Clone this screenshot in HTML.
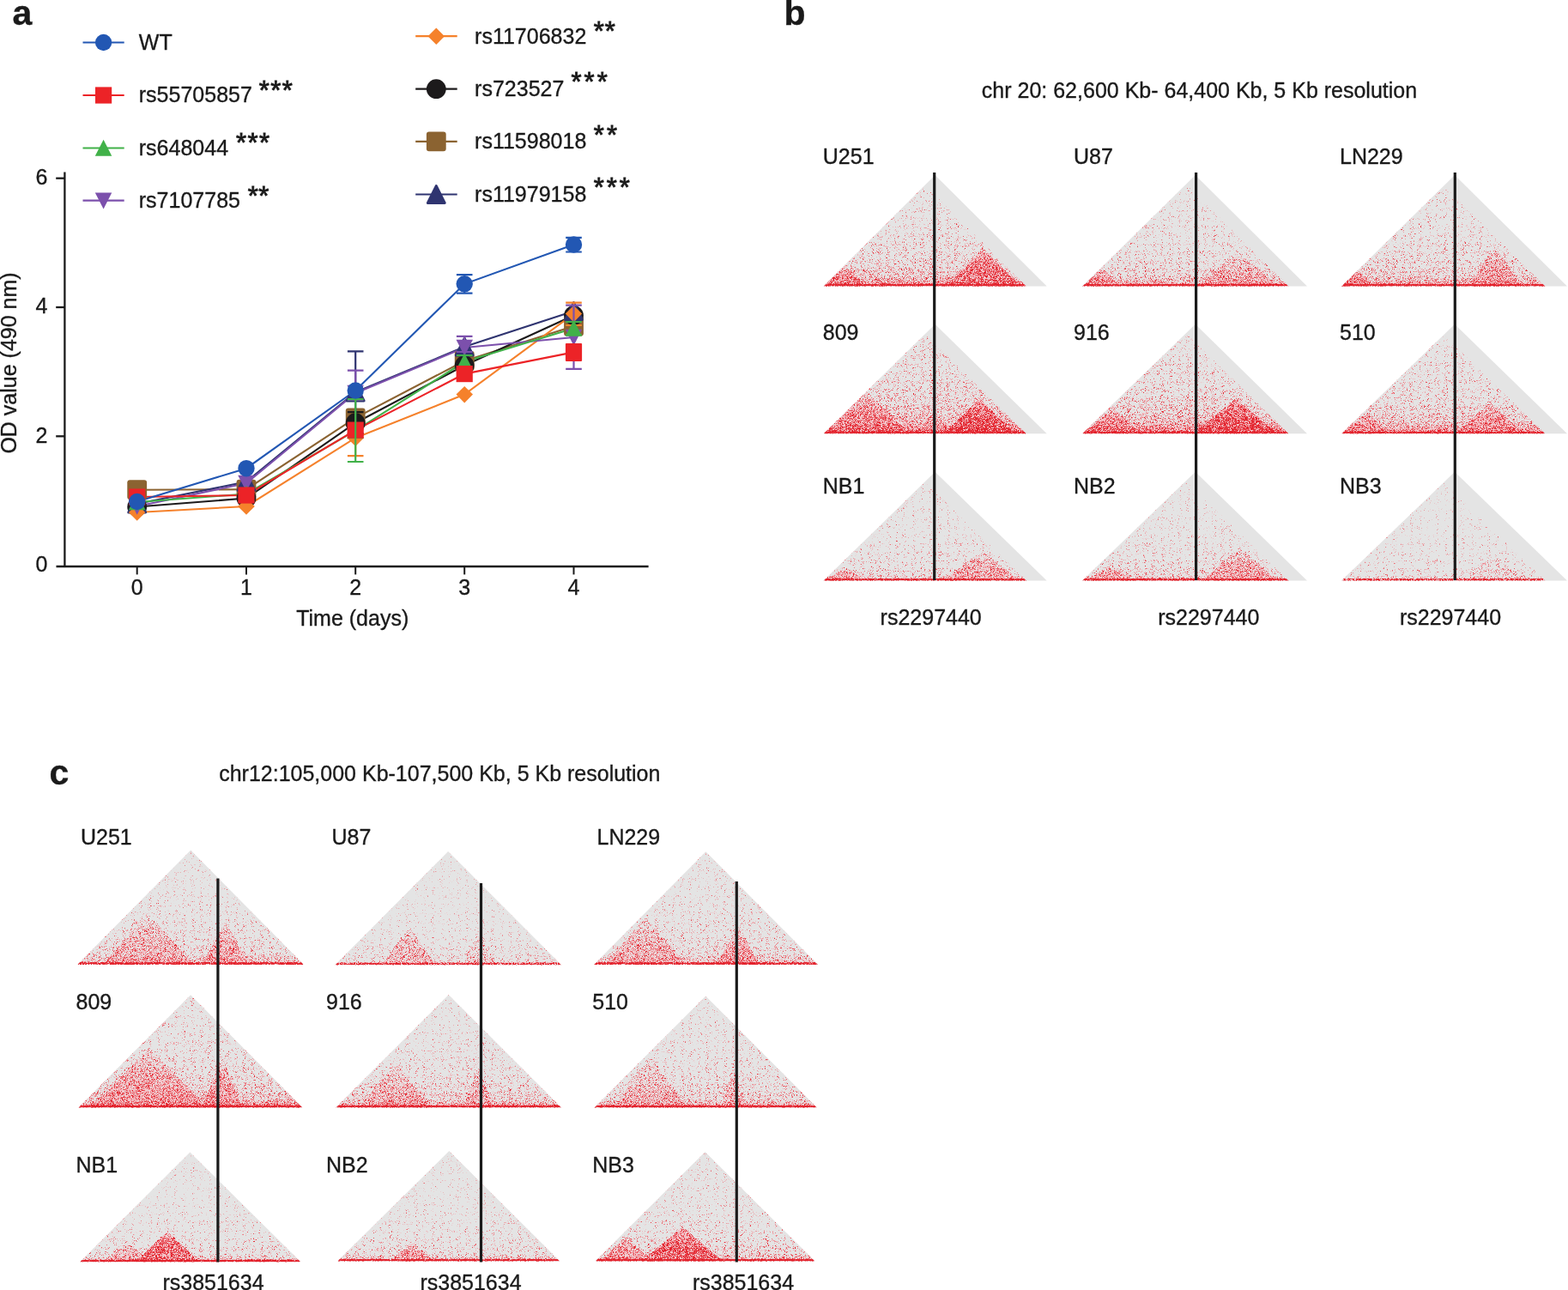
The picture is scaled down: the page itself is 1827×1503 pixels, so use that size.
<!DOCTYPE html>
<html><head><meta charset="utf-8"><title>Figure</title>
<style>
html,body{margin:0;padding:0;background:#fff;}
body{width:1827px;height:1503px;overflow:hidden;}
svg{display:block;}
text{font-family:'Liberation Sans', Arial, Helvetica, sans-serif;fill:#1a1a1a;stroke:#1a1a1a;stroke-width:0.35px;}
</style></head><body>
<svg width="1827" height="1503" viewBox="0 0 1827 1503">
<defs>
<filter id="hf" x="0" y="0" width="1" height="1" color-interpolation-filters="sRGB">
<feTurbulence type="fractalNoise" baseFrequency="1.9" numOctaves="1" seed="7" result="t"/>
<feColorMatrix in="t" type="matrix" values="0 0 0 0 0  0 0 0 0 0  0 0 0 0 0  1 0 0 0 0" result="n"/>
<feColorMatrix in="t" type="matrix" values="0 0 0 0 0  0 0 0 0 0  0 0 0 0 0  0 2.5 0 0 -0.85" result="i"/>
<feComponentTransfer in="n" result="u"><feFuncA type="table" tableValues="0.000 0.000 0.000 0.000 0.000 0.000 0.000 0.001 0.004 0.015 0.039 0.077 0.128 0.192 0.274 0.384 0.493 0.620 0.731 0.809 0.871 0.921 0.958 0.983 0.995 0.999 1.000 1.000 1.000 1.000 1.000 1.000 1.000"/></feComponentTransfer>
<feComposite in="SourceAlpha" in2="u" operator="arithmetic" k1="0" k2="0.5" k3="0.5" k4="0" result="s"/>
<feComponentTransfer in="s" result="th"><feFuncA type="linear" slope="14" intercept="-6.5"/></feComponentTransfer>
<feComponentTransfer in="SourceAlpha" result="dnz"><feFuncA type="table" tableValues="0.000 0.057 0.130 0.217 0.320 0.438 0.570 0.717 0.880 1.000 1.000 1.000 1.000 1.000 1.000 1.000 1.000 1.000 1.000 1.000 1.000"/></feComponentTransfer>
<feComposite in="dnz" in2="u" operator="arithmetic" k1="0" k2="0.5" k3="0.5" k4="0" result="s2"/>
<feComponentTransfer in="s2" result="th2"><feFuncA type="linear" slope="14" intercept="-6.5"/></feComponentTransfer>
<feComposite in="i" in2="SourceAlpha" operator="arithmetic" k1="0" k2="1" k3="0.8" k4="0" result="i2"/>
<feComposite in="th" in2="i2" operator="arithmetic" k1="1" k2="0" k3="0" k4="0" result="m"/>
<feFlood flood-color="#f3c3c8" result="pk"/>
<feComposite in="pk" in2="th2" operator="in" result="pkm"/>
<feFlood flood-color="#e3212b" result="red"/>
<feComposite in="red" in2="m" operator="in" result="redm"/>
<feMerge><feMergeNode in="pkm"/><feMergeNode in="redm"/></feMerge>
</filter>
<linearGradient id="g0" x1="0" y1="1" x2="0" y2="0"><stop offset="0.0000" stop-color="#e3212b" stop-opacity="1.000"/><stop offset="0.0077" stop-color="#e3212b" stop-opacity="0.975"/><stop offset="0.0154" stop-color="#e3212b" stop-opacity="0.950"/><stop offset="0.0232" stop-color="#e3212b" stop-opacity="0.495"/><stop offset="0.0386" stop-color="#e3212b" stop-opacity="0.378"/><stop offset="0.0618" stop-color="#e3212b" stop-opacity="0.306"/><stop offset="0.0927" stop-color="#e3212b" stop-opacity="0.252"/><stop offset="0.1390" stop-color="#e3212b" stop-opacity="0.207"/><stop offset="0.1931" stop-color="#e3212b" stop-opacity="0.171"/><stop offset="0.2703" stop-color="#e3212b" stop-opacity="0.140"/><stop offset="0.3861" stop-color="#e3212b" stop-opacity="0.108"/><stop offset="0.5405" stop-color="#e3212b" stop-opacity="0.086"/><stop offset="0.7336" stop-color="#e3212b" stop-opacity="0.069"/><stop offset="1.0000" stop-color="#e3212b" stop-opacity="0.058"/></linearGradient>
<clipPath id="c0"><polygon points="959.5,333.8 1077.7,215.8 1196.0,333.8"/></clipPath>
<linearGradient id="b0_48" x1="0" y1="1" x2="0" y2="0"><stop offset="0" stop-color="#e3212b" stop-opacity="0.34"/><stop offset="0.35" stop-color="#e3212b" stop-opacity="0.48"/><stop offset="0.7" stop-color="#e3212b" stop-opacity="0.36"/><stop offset="1" stop-color="#e3212b" stop-opacity="0.17"/></linearGradient>
<linearGradient id="b0_28" x1="0" y1="1" x2="0" y2="0"><stop offset="0" stop-color="#e3212b" stop-opacity="0.20"/><stop offset="0.35" stop-color="#e3212b" stop-opacity="0.28"/><stop offset="0.7" stop-color="#e3212b" stop-opacity="0.21"/><stop offset="1" stop-color="#e3212b" stop-opacity="0.10"/></linearGradient>
<linearGradient id="g1" x1="0" y1="1" x2="0" y2="0"><stop offset="0.0000" stop-color="#e3212b" stop-opacity="1.000"/><stop offset="0.0077" stop-color="#e3212b" stop-opacity="0.975"/><stop offset="0.0154" stop-color="#e3212b" stop-opacity="0.950"/><stop offset="0.0232" stop-color="#e3212b" stop-opacity="0.385"/><stop offset="0.0386" stop-color="#e3212b" stop-opacity="0.294"/><stop offset="0.0618" stop-color="#e3212b" stop-opacity="0.238"/><stop offset="0.0927" stop-color="#e3212b" stop-opacity="0.196"/><stop offset="0.1390" stop-color="#e3212b" stop-opacity="0.161"/><stop offset="0.1931" stop-color="#e3212b" stop-opacity="0.133"/><stop offset="0.2703" stop-color="#e3212b" stop-opacity="0.108"/><stop offset="0.3861" stop-color="#e3212b" stop-opacity="0.084"/><stop offset="0.5405" stop-color="#e3212b" stop-opacity="0.066"/><stop offset="0.7336" stop-color="#e3212b" stop-opacity="0.054"/><stop offset="1.0000" stop-color="#e3212b" stop-opacity="0.045"/></linearGradient>
<clipPath id="c1"><polygon points="1261.0,333.8 1382.0,214.6 1501.5,333.8"/></clipPath>
<linearGradient id="b0_20" x1="0" y1="1" x2="0" y2="0"><stop offset="0" stop-color="#e3212b" stop-opacity="0.14"/><stop offset="0.35" stop-color="#e3212b" stop-opacity="0.20"/><stop offset="0.7" stop-color="#e3212b" stop-opacity="0.15"/><stop offset="1" stop-color="#e3212b" stop-opacity="0.07"/></linearGradient>
<linearGradient id="g2" x1="0" y1="1" x2="0" y2="0"><stop offset="0.0000" stop-color="#e3212b" stop-opacity="1.000"/><stop offset="0.0077" stop-color="#e3212b" stop-opacity="0.975"/><stop offset="0.0154" stop-color="#e3212b" stop-opacity="0.950"/><stop offset="0.0232" stop-color="#e3212b" stop-opacity="0.440"/><stop offset="0.0386" stop-color="#e3212b" stop-opacity="0.336"/><stop offset="0.0618" stop-color="#e3212b" stop-opacity="0.272"/><stop offset="0.0927" stop-color="#e3212b" stop-opacity="0.224"/><stop offset="0.1390" stop-color="#e3212b" stop-opacity="0.184"/><stop offset="0.1931" stop-color="#e3212b" stop-opacity="0.152"/><stop offset="0.2703" stop-color="#e3212b" stop-opacity="0.124"/><stop offset="0.3861" stop-color="#e3212b" stop-opacity="0.096"/><stop offset="0.5405" stop-color="#e3212b" stop-opacity="0.076"/><stop offset="0.7336" stop-color="#e3212b" stop-opacity="0.062"/><stop offset="1.0000" stop-color="#e3212b" stop-opacity="0.051"/></linearGradient>
<clipPath id="c2"><polygon points="1563.0,333.8 1682.2,216.6 1800.5,333.8"/></clipPath>
<linearGradient id="b0_24" x1="0" y1="1" x2="0" y2="0"><stop offset="0" stop-color="#e3212b" stop-opacity="0.17"/><stop offset="0.35" stop-color="#e3212b" stop-opacity="0.24"/><stop offset="0.7" stop-color="#e3212b" stop-opacity="0.18"/><stop offset="1" stop-color="#e3212b" stop-opacity="0.08"/></linearGradient>
<linearGradient id="g3" x1="0" y1="1" x2="0" y2="0"><stop offset="0.0000" stop-color="#e3212b" stop-opacity="1.000"/><stop offset="0.0078" stop-color="#e3212b" stop-opacity="0.975"/><stop offset="0.0157" stop-color="#e3212b" stop-opacity="0.950"/><stop offset="0.0235" stop-color="#e3212b" stop-opacity="0.688"/><stop offset="0.0392" stop-color="#e3212b" stop-opacity="0.525"/><stop offset="0.0627" stop-color="#e3212b" stop-opacity="0.425"/><stop offset="0.0940" stop-color="#e3212b" stop-opacity="0.350"/><stop offset="0.1411" stop-color="#e3212b" stop-opacity="0.288"/><stop offset="0.1959" stop-color="#e3212b" stop-opacity="0.237"/><stop offset="0.2743" stop-color="#e3212b" stop-opacity="0.194"/><stop offset="0.3918" stop-color="#e3212b" stop-opacity="0.150"/><stop offset="0.5486" stop-color="#e3212b" stop-opacity="0.119"/><stop offset="0.7445" stop-color="#e3212b" stop-opacity="0.096"/><stop offset="1.0000" stop-color="#e3212b" stop-opacity="0.081"/></linearGradient>
<clipPath id="c3"><polygon points="959.5,505.6 1077.7,389.3 1196.0,505.6"/></clipPath>
<linearGradient id="b0_56" x1="0" y1="1" x2="0" y2="0"><stop offset="0" stop-color="#e3212b" stop-opacity="0.39"/><stop offset="0.35" stop-color="#e3212b" stop-opacity="0.56"/><stop offset="0.7" stop-color="#e3212b" stop-opacity="0.42"/><stop offset="1" stop-color="#e3212b" stop-opacity="0.20"/></linearGradient>
<linearGradient id="g4" x1="0" y1="1" x2="0" y2="0"><stop offset="0.0000" stop-color="#e3212b" stop-opacity="1.000"/><stop offset="0.0078" stop-color="#e3212b" stop-opacity="0.975"/><stop offset="0.0157" stop-color="#e3212b" stop-opacity="0.950"/><stop offset="0.0235" stop-color="#e3212b" stop-opacity="0.632"/><stop offset="0.0392" stop-color="#e3212b" stop-opacity="0.483"/><stop offset="0.0627" stop-color="#e3212b" stop-opacity="0.391"/><stop offset="0.0940" stop-color="#e3212b" stop-opacity="0.322"/><stop offset="0.1411" stop-color="#e3212b" stop-opacity="0.265"/><stop offset="0.1959" stop-color="#e3212b" stop-opacity="0.218"/><stop offset="0.2743" stop-color="#e3212b" stop-opacity="0.178"/><stop offset="0.3918" stop-color="#e3212b" stop-opacity="0.138"/><stop offset="0.5486" stop-color="#e3212b" stop-opacity="0.109"/><stop offset="0.7445" stop-color="#e3212b" stop-opacity="0.089"/><stop offset="1.0000" stop-color="#e3212b" stop-opacity="0.074"/></linearGradient>
<clipPath id="c4"><polygon points="1261.0,505.6 1382.0,388.2 1501.5,505.6"/></clipPath>
<linearGradient id="g5" x1="0" y1="1" x2="0" y2="0"><stop offset="0.0000" stop-color="#e3212b" stop-opacity="1.000"/><stop offset="0.0078" stop-color="#e3212b" stop-opacity="0.975"/><stop offset="0.0157" stop-color="#e3212b" stop-opacity="0.950"/><stop offset="0.0235" stop-color="#e3212b" stop-opacity="0.522"/><stop offset="0.0392" stop-color="#e3212b" stop-opacity="0.399"/><stop offset="0.0627" stop-color="#e3212b" stop-opacity="0.323"/><stop offset="0.0940" stop-color="#e3212b" stop-opacity="0.266"/><stop offset="0.1411" stop-color="#e3212b" stop-opacity="0.218"/><stop offset="0.1959" stop-color="#e3212b" stop-opacity="0.180"/><stop offset="0.2743" stop-color="#e3212b" stop-opacity="0.147"/><stop offset="0.3918" stop-color="#e3212b" stop-opacity="0.114"/><stop offset="0.5486" stop-color="#e3212b" stop-opacity="0.090"/><stop offset="0.7445" stop-color="#e3212b" stop-opacity="0.073"/><stop offset="1.0000" stop-color="#e3212b" stop-opacity="0.062"/></linearGradient>
<clipPath id="c5"><polygon points="1563.0,505.6 1682.2,390.1 1800.5,505.6"/></clipPath>
<linearGradient id="g6" x1="0" y1="1" x2="0" y2="0"><stop offset="0.0000" stop-color="#e3212b" stop-opacity="1.000"/><stop offset="0.0079" stop-color="#e3212b" stop-opacity="0.975"/><stop offset="0.0158" stop-color="#e3212b" stop-opacity="0.950"/><stop offset="0.0237" stop-color="#e3212b" stop-opacity="0.248"/><stop offset="0.0395" stop-color="#e3212b" stop-opacity="0.189"/><stop offset="0.0631" stop-color="#e3212b" stop-opacity="0.153"/><stop offset="0.0947" stop-color="#e3212b" stop-opacity="0.126"/><stop offset="0.1421" stop-color="#e3212b" stop-opacity="0.104"/><stop offset="0.1973" stop-color="#e3212b" stop-opacity="0.086"/><stop offset="0.2762" stop-color="#e3212b" stop-opacity="0.070"/><stop offset="0.3946" stop-color="#e3212b" stop-opacity="0.054"/><stop offset="0.5525" stop-color="#e3212b" stop-opacity="0.043"/><stop offset="0.7498" stop-color="#e3212b" stop-opacity="0.035"/><stop offset="1.0000" stop-color="#e3212b" stop-opacity="0.029"/></linearGradient>
<clipPath id="c6"><polygon points="959.5,676.8 1077.7,561.3 1196.0,676.8"/></clipPath>
<linearGradient id="g7" x1="0" y1="1" x2="0" y2="0"><stop offset="0.0000" stop-color="#e3212b" stop-opacity="1.000"/><stop offset="0.0079" stop-color="#e3212b" stop-opacity="0.975"/><stop offset="0.0158" stop-color="#e3212b" stop-opacity="0.950"/><stop offset="0.0237" stop-color="#e3212b" stop-opacity="0.275"/><stop offset="0.0395" stop-color="#e3212b" stop-opacity="0.210"/><stop offset="0.0631" stop-color="#e3212b" stop-opacity="0.170"/><stop offset="0.0947" stop-color="#e3212b" stop-opacity="0.140"/><stop offset="0.1421" stop-color="#e3212b" stop-opacity="0.115"/><stop offset="0.1973" stop-color="#e3212b" stop-opacity="0.095"/><stop offset="0.2762" stop-color="#e3212b" stop-opacity="0.077"/><stop offset="0.3946" stop-color="#e3212b" stop-opacity="0.060"/><stop offset="0.5525" stop-color="#e3212b" stop-opacity="0.048"/><stop offset="0.7498" stop-color="#e3212b" stop-opacity="0.038"/><stop offset="1.0000" stop-color="#e3212b" stop-opacity="0.033"/></linearGradient>
<clipPath id="c7"><polygon points="1261.0,676.8 1382.0,560.2 1501.5,676.8"/></clipPath>
<linearGradient id="g8" x1="0" y1="1" x2="0" y2="0"><stop offset="0.0000" stop-color="#e3212b" stop-opacity="0.830"/><stop offset="0.0079" stop-color="#e3212b" stop-opacity="0.809"/><stop offset="0.0158" stop-color="#e3212b" stop-opacity="0.788"/><stop offset="0.0237" stop-color="#e3212b" stop-opacity="0.154"/><stop offset="0.0395" stop-color="#e3212b" stop-opacity="0.118"/><stop offset="0.0631" stop-color="#e3212b" stop-opacity="0.095"/><stop offset="0.0947" stop-color="#e3212b" stop-opacity="0.078"/><stop offset="0.1421" stop-color="#e3212b" stop-opacity="0.064"/><stop offset="0.1973" stop-color="#e3212b" stop-opacity="0.053"/><stop offset="0.2762" stop-color="#e3212b" stop-opacity="0.043"/><stop offset="0.3946" stop-color="#e3212b" stop-opacity="0.034"/><stop offset="0.5525" stop-color="#e3212b" stop-opacity="0.027"/><stop offset="0.7498" stop-color="#e3212b" stop-opacity="0.022"/><stop offset="1.0000" stop-color="#e3212b" stop-opacity="0.018"/></linearGradient>
<clipPath id="c8"><polygon points="1563.0,676.8 1682.2,562.1 1800.5,676.8"/></clipPath>
<linearGradient id="b0_12" x1="0" y1="1" x2="0" y2="0"><stop offset="0" stop-color="#e3212b" stop-opacity="0.08"/><stop offset="0.35" stop-color="#e3212b" stop-opacity="0.12"/><stop offset="0.7" stop-color="#e3212b" stop-opacity="0.09"/><stop offset="1" stop-color="#e3212b" stop-opacity="0.04"/></linearGradient>
<linearGradient id="g9" x1="0" y1="1" x2="0" y2="0"><stop offset="0.0000" stop-color="#e3212b" stop-opacity="1.000"/><stop offset="0.0075" stop-color="#e3212b" stop-opacity="0.975"/><stop offset="0.0150" stop-color="#e3212b" stop-opacity="0.950"/><stop offset="0.0225" stop-color="#e3212b" stop-opacity="0.330"/><stop offset="0.0375" stop-color="#e3212b" stop-opacity="0.252"/><stop offset="0.0600" stop-color="#e3212b" stop-opacity="0.204"/><stop offset="0.0900" stop-color="#e3212b" stop-opacity="0.168"/><stop offset="0.1350" stop-color="#e3212b" stop-opacity="0.138"/><stop offset="0.1875" stop-color="#e3212b" stop-opacity="0.114"/><stop offset="0.2626" stop-color="#e3212b" stop-opacity="0.093"/><stop offset="0.3751" stop-color="#e3212b" stop-opacity="0.072"/><stop offset="0.5251" stop-color="#e3212b" stop-opacity="0.057"/><stop offset="0.7127" stop-color="#e3212b" stop-opacity="0.046"/><stop offset="1.0000" stop-color="#e3212b" stop-opacity="0.038"/></linearGradient>
<clipPath id="c9"><polygon points="90.3,1124.1 222.2,990.5 353.8,1124.1"/></clipPath>
<linearGradient id="g10" x1="0" y1="1" x2="0" y2="0"><stop offset="0.0000" stop-color="#e3212b" stop-opacity="0.870"/><stop offset="0.0076" stop-color="#e3212b" stop-opacity="0.848"/><stop offset="0.0151" stop-color="#e3212b" stop-opacity="0.827"/><stop offset="0.0227" stop-color="#e3212b" stop-opacity="0.176"/><stop offset="0.0378" stop-color="#e3212b" stop-opacity="0.134"/><stop offset="0.0605" stop-color="#e3212b" stop-opacity="0.109"/><stop offset="0.0907" stop-color="#e3212b" stop-opacity="0.090"/><stop offset="0.1361" stop-color="#e3212b" stop-opacity="0.074"/><stop offset="0.1890" stop-color="#e3212b" stop-opacity="0.061"/><stop offset="0.2646" stop-color="#e3212b" stop-opacity="0.050"/><stop offset="0.3779" stop-color="#e3212b" stop-opacity="0.038"/><stop offset="0.5291" stop-color="#e3212b" stop-opacity="0.030"/><stop offset="0.7181" stop-color="#e3212b" stop-opacity="0.025"/><stop offset="1.0000" stop-color="#e3212b" stop-opacity="0.020"/></linearGradient>
<clipPath id="c10"><polygon points="390.5,1124.5 522.2,991.9 654.1,1124.5"/></clipPath>
<linearGradient id="b0_26" x1="0" y1="1" x2="0" y2="0"><stop offset="0" stop-color="#e3212b" stop-opacity="0.18"/><stop offset="0.35" stop-color="#e3212b" stop-opacity="0.26"/><stop offset="0.7" stop-color="#e3212b" stop-opacity="0.20"/><stop offset="1" stop-color="#e3212b" stop-opacity="0.09"/></linearGradient>
<linearGradient id="b0_16" x1="0" y1="1" x2="0" y2="0"><stop offset="0" stop-color="#e3212b" stop-opacity="0.11"/><stop offset="0.35" stop-color="#e3212b" stop-opacity="0.16"/><stop offset="0.7" stop-color="#e3212b" stop-opacity="0.12"/><stop offset="1" stop-color="#e3212b" stop-opacity="0.06"/></linearGradient>
<linearGradient id="g11" x1="0" y1="1" x2="0" y2="0"><stop offset="0.0000" stop-color="#e3212b" stop-opacity="1.000"/><stop offset="0.0076" stop-color="#e3212b" stop-opacity="0.975"/><stop offset="0.0152" stop-color="#e3212b" stop-opacity="0.950"/><stop offset="0.0228" stop-color="#e3212b" stop-opacity="0.330"/><stop offset="0.0380" stop-color="#e3212b" stop-opacity="0.252"/><stop offset="0.0608" stop-color="#e3212b" stop-opacity="0.204"/><stop offset="0.0912" stop-color="#e3212b" stop-opacity="0.168"/><stop offset="0.1368" stop-color="#e3212b" stop-opacity="0.138"/><stop offset="0.1900" stop-color="#e3212b" stop-opacity="0.114"/><stop offset="0.2660" stop-color="#e3212b" stop-opacity="0.093"/><stop offset="0.3799" stop-color="#e3212b" stop-opacity="0.072"/><stop offset="0.5319" stop-color="#e3212b" stop-opacity="0.057"/><stop offset="0.7219" stop-color="#e3212b" stop-opacity="0.046"/><stop offset="1.0000" stop-color="#e3212b" stop-opacity="0.038"/></linearGradient>
<clipPath id="c11"><polygon points="692.2,1124.1 822.4,992.2 953.0,1124.1"/></clipPath>
<linearGradient id="b0_32" x1="0" y1="1" x2="0" y2="0"><stop offset="0" stop-color="#e3212b" stop-opacity="0.22"/><stop offset="0.35" stop-color="#e3212b" stop-opacity="0.32"/><stop offset="0.7" stop-color="#e3212b" stop-opacity="0.24"/><stop offset="1" stop-color="#e3212b" stop-opacity="0.11"/></linearGradient>
<linearGradient id="g12" x1="0" y1="1" x2="0" y2="0"><stop offset="0.0000" stop-color="#e3212b" stop-opacity="1.000"/><stop offset="0.0076" stop-color="#e3212b" stop-opacity="0.975"/><stop offset="0.0152" stop-color="#e3212b" stop-opacity="0.950"/><stop offset="0.0229" stop-color="#e3212b" stop-opacity="0.506"/><stop offset="0.0381" stop-color="#e3212b" stop-opacity="0.386"/><stop offset="0.0610" stop-color="#e3212b" stop-opacity="0.313"/><stop offset="0.0915" stop-color="#e3212b" stop-opacity="0.258"/><stop offset="0.1372" stop-color="#e3212b" stop-opacity="0.212"/><stop offset="0.1905" stop-color="#e3212b" stop-opacity="0.175"/><stop offset="0.2668" stop-color="#e3212b" stop-opacity="0.143"/><stop offset="0.3811" stop-color="#e3212b" stop-opacity="0.110"/><stop offset="0.5335" stop-color="#e3212b" stop-opacity="0.087"/><stop offset="0.7241" stop-color="#e3212b" stop-opacity="0.071"/><stop offset="1.0000" stop-color="#e3212b" stop-opacity="0.058"/></linearGradient>
<clipPath id="c12"><polygon points="91.3,1290.7 222.1,1159.2 352.6,1290.7"/></clipPath>
<linearGradient id="g13" x1="0" y1="1" x2="0" y2="0"><stop offset="0.0000" stop-color="#e3212b" stop-opacity="1.000"/><stop offset="0.0076" stop-color="#e3212b" stop-opacity="0.975"/><stop offset="0.0152" stop-color="#e3212b" stop-opacity="0.950"/><stop offset="0.0228" stop-color="#e3212b" stop-opacity="0.396"/><stop offset="0.0381" stop-color="#e3212b" stop-opacity="0.302"/><stop offset="0.0609" stop-color="#e3212b" stop-opacity="0.245"/><stop offset="0.0913" stop-color="#e3212b" stop-opacity="0.202"/><stop offset="0.1370" stop-color="#e3212b" stop-opacity="0.166"/><stop offset="0.1903" stop-color="#e3212b" stop-opacity="0.137"/><stop offset="0.2664" stop-color="#e3212b" stop-opacity="0.112"/><stop offset="0.3805" stop-color="#e3212b" stop-opacity="0.086"/><stop offset="0.5327" stop-color="#e3212b" stop-opacity="0.068"/><stop offset="0.7230" stop-color="#e3212b" stop-opacity="0.055"/><stop offset="1.0000" stop-color="#e3212b" stop-opacity="0.046"/></linearGradient>
<clipPath id="c13"><polygon points="391.3,1290.7 522.7,1159.0 654.1,1290.7"/></clipPath>
<linearGradient id="g14" x1="0" y1="1" x2="0" y2="0"><stop offset="0.0000" stop-color="#e3212b" stop-opacity="1.000"/><stop offset="0.0077" stop-color="#e3212b" stop-opacity="0.975"/><stop offset="0.0154" stop-color="#e3212b" stop-opacity="0.950"/><stop offset="0.0231" stop-color="#e3212b" stop-opacity="0.374"/><stop offset="0.0385" stop-color="#e3212b" stop-opacity="0.286"/><stop offset="0.0615" stop-color="#e3212b" stop-opacity="0.231"/><stop offset="0.0923" stop-color="#e3212b" stop-opacity="0.190"/><stop offset="0.1385" stop-color="#e3212b" stop-opacity="0.156"/><stop offset="0.1923" stop-color="#e3212b" stop-opacity="0.129"/><stop offset="0.2692" stop-color="#e3212b" stop-opacity="0.105"/><stop offset="0.3846" stop-color="#e3212b" stop-opacity="0.082"/><stop offset="0.5385" stop-color="#e3212b" stop-opacity="0.065"/><stop offset="0.7308" stop-color="#e3212b" stop-opacity="0.052"/><stop offset="1.0000" stop-color="#e3212b" stop-opacity="0.043"/></linearGradient>
<clipPath id="c14"><polygon points="692.5,1290.7 822.2,1160.4 951.9,1290.7"/></clipPath>
<linearGradient id="g15" x1="0" y1="1" x2="0" y2="0"><stop offset="0.0000" stop-color="#e3212b" stop-opacity="0.970"/><stop offset="0.0078" stop-color="#e3212b" stop-opacity="0.946"/><stop offset="0.0156" stop-color="#e3212b" stop-opacity="0.921"/><stop offset="0.0235" stop-color="#e3212b" stop-opacity="0.231"/><stop offset="0.0391" stop-color="#e3212b" stop-opacity="0.176"/><stop offset="0.0626" stop-color="#e3212b" stop-opacity="0.143"/><stop offset="0.0939" stop-color="#e3212b" stop-opacity="0.118"/><stop offset="0.1408" stop-color="#e3212b" stop-opacity="0.097"/><stop offset="0.1956" stop-color="#e3212b" stop-opacity="0.080"/><stop offset="0.2739" stop-color="#e3212b" stop-opacity="0.065"/><stop offset="0.3912" stop-color="#e3212b" stop-opacity="0.050"/><stop offset="0.5477" stop-color="#e3212b" stop-opacity="0.040"/><stop offset="0.7433" stop-color="#e3212b" stop-opacity="0.032"/><stop offset="1.0000" stop-color="#e3212b" stop-opacity="0.027"/></linearGradient>
<clipPath id="c15"><polygon points="93.1,1470.6 221.4,1342.5 350.4,1470.6"/></clipPath>
<linearGradient id="b0_60" x1="0" y1="1" x2="0" y2="0"><stop offset="0" stop-color="#e3212b" stop-opacity="0.42"/><stop offset="0.35" stop-color="#e3212b" stop-opacity="0.60"/><stop offset="0.7" stop-color="#e3212b" stop-opacity="0.45"/><stop offset="1" stop-color="#e3212b" stop-opacity="0.21"/></linearGradient>
<linearGradient id="g16" x1="0" y1="1" x2="0" y2="0"><stop offset="0.0000" stop-color="#e3212b" stop-opacity="0.970"/><stop offset="0.0078" stop-color="#e3212b" stop-opacity="0.946"/><stop offset="0.0156" stop-color="#e3212b" stop-opacity="0.921"/><stop offset="0.0234" stop-color="#e3212b" stop-opacity="0.231"/><stop offset="0.0389" stop-color="#e3212b" stop-opacity="0.176"/><stop offset="0.0623" stop-color="#e3212b" stop-opacity="0.143"/><stop offset="0.0935" stop-color="#e3212b" stop-opacity="0.118"/><stop offset="0.1402" stop-color="#e3212b" stop-opacity="0.097"/><stop offset="0.1947" stop-color="#e3212b" stop-opacity="0.080"/><stop offset="0.2726" stop-color="#e3212b" stop-opacity="0.065"/><stop offset="0.3894" stop-color="#e3212b" stop-opacity="0.050"/><stop offset="0.5452" stop-color="#e3212b" stop-opacity="0.040"/><stop offset="0.7399" stop-color="#e3212b" stop-opacity="0.032"/><stop offset="1.0000" stop-color="#e3212b" stop-opacity="0.027"/></linearGradient>
<clipPath id="c16"><polygon points="393.0,1469.7 523.4,1341.0 652.4,1469.7"/></clipPath>
<linearGradient id="g17" x1="0" y1="1" x2="0" y2="0"><stop offset="0.0000" stop-color="#e3212b" stop-opacity="1.000"/><stop offset="0.0078" stop-color="#e3212b" stop-opacity="0.975"/><stop offset="0.0157" stop-color="#e3212b" stop-opacity="0.950"/><stop offset="0.0235" stop-color="#e3212b" stop-opacity="0.341"/><stop offset="0.0392" stop-color="#e3212b" stop-opacity="0.260"/><stop offset="0.0628" stop-color="#e3212b" stop-opacity="0.211"/><stop offset="0.0942" stop-color="#e3212b" stop-opacity="0.174"/><stop offset="0.1413" stop-color="#e3212b" stop-opacity="0.143"/><stop offset="0.1962" stop-color="#e3212b" stop-opacity="0.118"/><stop offset="0.2747" stop-color="#e3212b" stop-opacity="0.096"/><stop offset="0.3925" stop-color="#e3212b" stop-opacity="0.074"/><stop offset="0.5495" stop-color="#e3212b" stop-opacity="0.059"/><stop offset="0.7457" stop-color="#e3212b" stop-opacity="0.048"/><stop offset="1.0000" stop-color="#e3212b" stop-opacity="0.040"/></linearGradient>
<clipPath id="c17"><polygon points="693.5,1469.7 821.6,1342.0 949.6,1469.7"/></clipPath>
</defs>
<text x="14.5" y="29.2" font-size="41" font-weight="bold">a</text>
<text x="913.5" y="29.3" font-size="41" font-weight="bold">b</text>
<text x="57.5" y="914" font-size="41" font-weight="bold">c</text>
<g stroke="#1a1a1a" stroke-width="2.3" fill="none" stroke-linecap="butt">
<path d="M75.4 200.5 V660.1"/>
<path d="M65.5 660 H755.6"/>
<path d="M65.2 508.3 H75.4"/>
<path d="M65.2 358.0 H75.4"/>
<path d="M65.2 207.7 H75.4"/>
<path d="M159.7 660 V669.4" stroke-width="2"/>
<path d="M287.0 660 V669.4" stroke-width="2"/>
<path d="M414.2 660 V669.4" stroke-width="2"/>
<path d="M541.2 660 V669.4" stroke-width="2"/>
<path d="M668.5 660 V669.4" stroke-width="2"/>
</g>
<text x="55.5" y="665.9" font-size="25" text-anchor="end">0</text>
<text x="55.5" y="515.6" font-size="25" text-anchor="end">2</text>
<text x="55.5" y="365.3" font-size="25" text-anchor="end">4</text>
<text x="55.5" y="215.0" font-size="25" text-anchor="end">6</text>
<text x="159.7" y="693.3" font-size="25" text-anchor="middle">0</text>
<text x="287.0" y="693.3" font-size="25" text-anchor="middle">1</text>
<text x="414.2" y="693.3" font-size="25" text-anchor="middle">2</text>
<text x="541.2" y="693.3" font-size="25" text-anchor="middle">3</text>
<text x="668.5" y="693.3" font-size="25" text-anchor="middle">4</text>
<text x="410.7" y="728.6" font-size="25" text-anchor="middle">Time (days)</text>
<text transform="translate(19.3,423) rotate(-90)" font-size="25" text-anchor="middle">OD value (490 nm)</text>
<polyline points="159.7,570.7 287.0,570.2 414.2,486.8 541.2,420.5 668.5,380.0" fill="none" stroke="#8b6331" stroke-width="2.1"/>
<polyline points="159.7,590.5 287.0,580.5 414.2,492.7 541.2,425.7 668.5,367.5" fill="none" stroke="#1c1a1b" stroke-width="2.1"/>
<polyline points="159.7,587.0 287.0,561.4 414.2,457.0 541.2,404.0 668.5,362.5" fill="none" stroke="#2f3470" stroke-width="2.1"/>
<polyline points="159.7,597.0 287.0,590.0 414.2,510.2 541.2,459.6 668.5,365.6" fill="none" stroke="#f5812b" stroke-width="2.1"/>
<polyline points="159.7,590.0 287.0,563.0 414.2,458.0 541.2,405.0 668.5,393.0" fill="none" stroke="#7c50ac" stroke-width="2.1"/>
<polyline points="159.7,585.0 287.0,575.5 414.2,501.6 541.2,421.5 668.5,382.5" fill="none" stroke="#41b149" stroke-width="2.1"/>
<polyline points="159.7,579.0 287.0,577.0 414.2,501.1 541.2,435.6 668.5,410.4" fill="none" stroke="#ec2327" stroke-width="2.1"/>
<polyline points="159.7,584.5 287.0,545.7 414.2,455.0 541.2,330.8 668.5,285.0" fill="none" stroke="#2257b3" stroke-width="2.1"/>
<rect x="148.3" y="559.3" width="22.8" height="22.8" rx="3" fill="#8b6331"/>
<rect x="275.6" y="558.8" width="22.8" height="22.8" rx="3" fill="#8b6331"/>
<rect x="402.8" y="475.4" width="22.8" height="22.8" rx="3" fill="#8b6331"/>
<rect x="529.8" y="409.1" width="22.8" height="22.8" rx="3" fill="#8b6331"/>
<rect x="657.1" y="368.6" width="22.8" height="22.8" rx="3" fill="#8b6331"/>
<path d="M414.2 480.1 V505 M404.9 480.1 H423.5 M404.9 505 H423.5" stroke="#1c1a1b" stroke-width="2.2" fill="none"/>
<circle cx="159.7" cy="590.5" r="11.4" fill="#1c1a1b"/>
<circle cx="287.0" cy="580.5" r="11.4" fill="#1c1a1b"/>
<circle cx="414.2" cy="492.7" r="11.4" fill="#1c1a1b"/>
<circle cx="541.2" cy="425.7" r="11.4" fill="#1c1a1b"/>
<circle cx="668.5" cy="367.5" r="11.4" fill="#1c1a1b"/>
<path d="M414.2 409.4 V505 M404.9 409.4 H423.5 M404.9 505 H423.5" stroke="#2f3470" stroke-width="2.2" fill="none"/>
<polygon points="159.7,577.1 169.6,596.9 149.8,596.9" fill="#2f3470" stroke="#2f3470" stroke-width="3" stroke-linejoin="round"/>
<polygon points="287.0,551.5 296.9,571.3 277.1,571.3" fill="#2f3470" stroke="#2f3470" stroke-width="3" stroke-linejoin="round"/>
<polygon points="414.2,447.1 424.1,466.9 404.3,466.9" fill="#2f3470" stroke="#2f3470" stroke-width="3" stroke-linejoin="round"/>
<polygon points="541.2,394.1 551.1,413.9 531.3,413.9" fill="#2f3470" stroke="#2f3470" stroke-width="3" stroke-linejoin="round"/>
<polygon points="668.5,352.6 678.4,372.4 658.6,372.4" fill="#2f3470" stroke="#2f3470" stroke-width="3" stroke-linejoin="round"/>
<path d="M414.2 500 V531.1 M404.9 500 H423.5 M404.9 531.1 H423.5" stroke="#f5812b" stroke-width="2.2" fill="none"/>
<path d="M668.5 352.7 V379 M659.2 352.7 H677.8 M659.2 379 H677.8" stroke="#f5812b" stroke-width="2.2" fill="none"/>
<polygon points="159.7,587.2 169.4,597.0 159.7,606.8 149.9,597.0" fill="#f5812b"/>
<polygon points="287.0,580.2 296.8,590.0 287.0,599.8 277.2,590.0" fill="#f5812b"/>
<polygon points="414.2,500.4 423.9,510.2 414.2,520.0 404.4,510.2" fill="#f5812b"/>
<polygon points="541.2,449.9 551.0,459.6 541.2,469.4 531.5,459.6" fill="#f5812b"/>
<polygon points="668.5,355.9 678.2,365.6 668.5,375.4 658.8,365.6" fill="#f5812b"/>
<path d="M414.2 431.7 V466 M404.9 431.7 H423.5 M404.9 466 H423.5" stroke="#7c50ac" stroke-width="2.2" fill="none"/>
<path d="M541.2 391.8 V410 M531.9000000000001 391.8 H550.5 M531.9000000000001 410 H550.5" stroke="#7c50ac" stroke-width="2.2" fill="none"/>
<path d="M668.5 355.7 V429.9 M659.2 355.7 H677.8 M659.2 429.9 H677.8" stroke="#7c50ac" stroke-width="2.2" fill="none"/>
<polygon points="159.7,599.8 169.4,580.7 149.9,580.7" fill="#7c50ac"/>
<polygon points="287.0,572.8 296.8,553.7 277.2,553.7" fill="#7c50ac"/>
<polygon points="414.2,467.8 423.9,448.7 404.4,448.7" fill="#7c50ac"/>
<polygon points="541.2,414.8 551.0,395.7 531.5,395.7" fill="#7c50ac"/>
<polygon points="668.5,402.8 678.2,383.7 658.8,383.7" fill="#7c50ac"/>
<path d="M541.2 414 V429 M531.9000000000001 414 H550.5 M531.9000000000001 429 H550.5" stroke="#41b149" stroke-width="2.2" fill="none"/>
<path d="M668.5 375 V390 M659.2 375 H677.8 M659.2 390 H677.8" stroke="#41b149" stroke-width="2.2" fill="none"/>
<polygon points="159.7,575.2 169.4,594.3 149.9,594.3" fill="#41b149"/>
<polygon points="287.0,565.8 296.8,584.8 277.2,584.8" fill="#41b149"/>
<polygon points="414.2,491.9 423.9,510.9 404.4,510.9" fill="#41b149"/>
<polygon points="541.2,411.8 551.0,430.8 531.5,430.8" fill="#41b149"/>
<polygon points="668.5,372.8 678.2,391.8 658.8,391.8" fill="#41b149"/>
<path d="M668.5 401 V420 M659.2 401 H677.8 M659.2 420 H677.8" stroke="#ec2327" stroke-width="2.2" fill="none"/>
<rect x="150.1" y="569.4" width="19.2" height="19.2" fill="#ec2327"/>
<rect x="277.4" y="567.4" width="19.2" height="19.2" fill="#ec2327"/>
<rect x="404.6" y="491.5" width="19.2" height="19.2" fill="#ec2327"/>
<rect x="531.6" y="426.0" width="19.2" height="19.2" fill="#ec2327"/>
<rect x="658.9" y="400.8" width="19.2" height="19.2" fill="#ec2327"/>
<path d="M414.2 465.2 V538.0 M404.9 465.2 H423.5 M404.9 538.0 H423.5" stroke="#41b149" stroke-width="2.2" fill="none"/>
<path d="M541.2 320.2 V341.6 M531.9000000000001 320.2 H550.5 M531.9000000000001 341.6 H550.5" stroke="#2257b3" stroke-width="2.2" fill="none"/>
<path d="M668.5 276.9 V293.5 M659.2 276.9 H677.8 M659.2 293.5 H677.8" stroke="#2257b3" stroke-width="2.2" fill="none"/>
<circle cx="159.7" cy="584.5" r="9.7" fill="#2257b3"/>
<circle cx="287.0" cy="545.7" r="9.7" fill="#2257b3"/>
<circle cx="414.2" cy="455.0" r="9.7" fill="#2257b3"/>
<circle cx="541.2" cy="330.8" r="9.7" fill="#2257b3"/>
<circle cx="668.5" cy="285.0" r="9.7" fill="#2257b3"/>
<path d="M96.5 49.5 H144.7" stroke="#2257b3" stroke-width="2.2"/>
<circle cx="120.6" cy="49.5" r="9.7" fill="#2257b3"/>
<text x="161.8" y="57.8" font-size="25">WT</text>
<path d="M96.5 111.0 H144.7" stroke="#ec2327" stroke-width="2.2"/>
<rect x="111.0" y="101.4" width="19.2" height="19.2" fill="#ec2327"/>
<text x="161.8" y="119.3" font-size="25">rs55705857</text>
<text x="307.9" y="115.6" font-size="31" text-anchor="middle" style="stroke-width:0.9px">*</text>
<text x="321.4" y="115.6" font-size="31" text-anchor="middle" style="stroke-width:0.9px">*</text>
<text x="334.9" y="115.6" font-size="31" text-anchor="middle" style="stroke-width:0.9px">*</text>
<path d="M96.5 172.5 H144.7" stroke="#41b149" stroke-width="2.2"/>
<polygon points="120.6,162.8 130.3,181.8 110.8,181.8" fill="#41b149"/>
<text x="161.8" y="180.8" font-size="25">rs648044</text>
<text x="281.1" y="177.4" font-size="31" text-anchor="middle" style="stroke-width:0.9px">*</text>
<text x="294.6" y="177.4" font-size="31" text-anchor="middle" style="stroke-width:0.9px">*</text>
<text x="308.1" y="177.4" font-size="31" text-anchor="middle" style="stroke-width:0.9px">*</text>
<path d="M96.5 233.7 H144.7" stroke="#7c50ac" stroke-width="2.2"/>
<polygon points="120.6,243.4 130.3,224.4 110.8,224.4" fill="#7c50ac"/>
<text x="161.8" y="242.0" font-size="25">rs7107785</text>
<text x="294.9" y="239.3" font-size="31" text-anchor="middle" style="stroke-width:0.9px">*</text>
<text x="307.4" y="239.3" font-size="31" text-anchor="middle" style="stroke-width:0.9px">*</text>
<path d="M484.2 42.2 H532.7" stroke="#f5812b" stroke-width="2.2"/>
<polygon points="508.3,32.5 518.0,42.2 508.3,52.0 498.6,42.2" fill="#f5812b"/>
<text x="553.1" y="50.5" font-size="25">rs11706832</text>
<text x="697.8" y="46.8" font-size="31" text-anchor="middle" style="stroke-width:0.9px">*</text>
<text x="710.9" y="46.8" font-size="31" text-anchor="middle" style="stroke-width:0.9px">*</text>
<path d="M484.2 103.7 H532.7" stroke="#1c1a1b" stroke-width="2.2"/>
<circle cx="508.3" cy="103.7" r="11.4" fill="#1c1a1b"/>
<text x="553.1" y="112.0" font-size="25">rs723527</text>
<text x="671.5" y="105.9" font-size="31" text-anchor="middle" style="stroke-width:0.9px">*</text>
<text x="686.6" y="105.9" font-size="31" text-anchor="middle" style="stroke-width:0.9px">*</text>
<text x="701.7" y="105.9" font-size="31" text-anchor="middle" style="stroke-width:0.9px">*</text>
<path d="M484.2 164.8 H532.7" stroke="#8b6331" stroke-width="2.2"/>
<rect x="496.9" y="153.4" width="22.8" height="22.8" rx="3" fill="#8b6331"/>
<text x="553.1" y="173.1" font-size="25">rs11598018</text>
<text x="697.8" y="167.6" font-size="31" text-anchor="middle" style="stroke-width:0.9px">*</text>
<text x="713.0" y="167.6" font-size="31" text-anchor="middle" style="stroke-width:0.9px">*</text>
<path d="M484.2 226.5 H532.7" stroke="#2f3470" stroke-width="2.2"/>
<polygon points="508.3,216.6 518.2,236.4 498.4,236.4" fill="#2f3470" stroke="#2f3470" stroke-width="3" stroke-linejoin="round"/>
<text x="553.1" y="234.8" font-size="25">rs11979158</text>
<text x="697.8" y="228.8" font-size="31" text-anchor="middle" style="stroke-width:0.9px">*</text>
<text x="712.8" y="228.8" font-size="31" text-anchor="middle" style="stroke-width:0.9px">*</text>
<text x="727.8" y="228.8" font-size="31" text-anchor="middle" style="stroke-width:0.9px">*</text>
<text x="1397.5" y="114.2" font-size="25" text-anchor="middle">chr 20: 62,600 Kb- 64,400 Kb, 5 Kb resolution</text>
<polygon points="959.5,333.5 1089.5,204.0 1219.7,333.5" fill="#e4e4e4"/>
<g clip-path="url(#c0)"><g filter="url(#hf)">
<rect x="959.5" y="204.0" width="260.2" height="129.5" fill="url(#g0)"/>
<polygon points="1103.0,333.5 1146.0,289.5 1189.0,333.5" fill="url(#b0_48)"/>
<polygon points="960.0,333.5 985.0,308.5 1010.0,333.5" fill="url(#b0_28)"/>
</g></g>
<polygon points="1261.0,333.5 1392.8,204.0 1523.0,333.5" fill="#e4e4e4"/>
<g clip-path="url(#c1)"><g filter="url(#hf)">
<rect x="1261.0" y="204.0" width="262.0" height="129.5" fill="url(#g1)"/>
<polygon points="1262.0,333.5 1283.5,311.5 1305.0,333.5" fill="url(#b0_28)"/>
<polygon points="1395.0,333.5 1442.5,293.5 1490.0,333.5" fill="url(#b0_20)"/>
</g></g>
<polygon points="1563.0,333.5 1695.0,204.0 1826.0,333.5" fill="#e4e4e4"/>
<g clip-path="url(#c2)"><g filter="url(#hf)">
<rect x="1563.0" y="204.0" width="263.0" height="129.5" fill="url(#g2)"/>
<polygon points="1563.0,333.5 1581.5,313.5 1600.0,333.5" fill="url(#b0_28)"/>
<polygon points="1712.0,333.5 1742.0,285.5 1772.0,333.5" fill="url(#b0_24)"/>
</g></g>
<polygon points="959.5,505.3 1089.5,377.7 1219.7,505.3" fill="#e4e4e4"/>
<g clip-path="url(#c3)"><g filter="url(#hf)">
<rect x="959.5" y="377.7" width="260.2" height="127.6" fill="url(#g3)"/>
<polygon points="1100.0,505.3 1141.5,464.3 1183.0,505.3" fill="url(#b0_56)"/>
<polygon points="960.0,505.3 1010.0,455.3 1060.0,505.3" fill="url(#b0_28)"/>
</g></g>
<polygon points="1261.0,505.3 1392.8,377.7 1523.0,505.3" fill="#e4e4e4"/>
<g clip-path="url(#c4)"><g filter="url(#hf)">
<rect x="1261.0" y="377.7" width="262.0" height="127.6" fill="url(#g4)"/>
<polygon points="1391.0,505.3 1439.5,464.3 1488.0,505.3" fill="url(#b0_56)"/>
<polygon points="1263.0,505.3 1296.5,475.3 1330.0,505.3" fill="url(#b0_28)"/>
</g></g>
<polygon points="1563.0,505.3 1695.0,377.7 1826.0,505.3" fill="#e4e4e4"/>
<g clip-path="url(#c5)"><g filter="url(#hf)">
<rect x="1563.0" y="377.7" width="263.0" height="127.6" fill="url(#g5)"/>
<polygon points="1697.0,505.3 1736.0,468.3 1775.0,505.3" fill="url(#b0_28)"/>
<polygon points="1564.0,505.3 1592.0,480.3 1620.0,505.3" fill="url(#b0_24)"/>
</g></g>
<polygon points="959.5,676.5 1089.5,549.8 1219.7,676.5" fill="#e4e4e4"/>
<g clip-path="url(#c6)"><g filter="url(#hf)">
<rect x="959.5" y="549.8" width="260.2" height="126.7" fill="url(#g6)"/>
<polygon points="1100.0,676.5 1144.0,641.5 1188.0,676.5" fill="url(#b0_28)"/>
<polygon points="960.0,676.5 985.0,661.5 1010.0,676.5" fill="url(#b0_24)"/>
</g></g>
<polygon points="1261.0,676.5 1392.8,549.8 1523.0,676.5" fill="#e4e4e4"/>
<g clip-path="url(#c7)"><g filter="url(#hf)">
<rect x="1261.0" y="549.8" width="262.0" height="126.7" fill="url(#g7)"/>
<polygon points="1401.0,676.5 1444.5,637.5 1488.0,676.5" fill="url(#b0_28)"/>
<polygon points="1267.0,676.5 1293.5,656.5 1320.0,676.5" fill="url(#b0_24)"/>
</g></g>
<polygon points="1563.0,676.5 1695.0,549.8 1826.0,676.5" fill="#e4e4e4"/>
<g clip-path="url(#c8)"><g filter="url(#hf)">
<rect x="1563.0" y="549.8" width="263.0" height="126.7" fill="url(#g8)"/>
<polygon points="1700.0,676.5 1740.0,646.5 1780.0,676.5" fill="url(#b0_12)"/>
</g></g>
<text x="958.8" y="190.8" font-size="25" text-anchor="start">U251</text>
<text x="1251.0" y="190.8" font-size="25" text-anchor="start">U87</text>
<text x="1561.0" y="190.8" font-size="25" text-anchor="start">LN229</text>
<text x="958.8" y="396.0" font-size="25" text-anchor="start">809</text>
<text x="1251.0" y="396.0" font-size="25" text-anchor="start">916</text>
<text x="1561.0" y="396.0" font-size="25" text-anchor="start">510</text>
<text x="958.8" y="575.0" font-size="25" text-anchor="start">NB1</text>
<text x="1251.0" y="575.0" font-size="25" text-anchor="start">NB2</text>
<text x="1561.0" y="575.0" font-size="25" text-anchor="start">NB3</text>
<path d="M1088.7 201 V676" stroke="#1a1a1a" stroke-width="3.2"/>
<path d="M1393.6 201 V676" stroke="#1a1a1a" stroke-width="3.2"/>
<path d="M1695.3 201 V676" stroke="#1a1a1a" stroke-width="3.2"/>
<text x="1084.7" y="727.7" font-size="25" text-anchor="middle">rs2297440</text>
<text x="1408.3" y="727.7" font-size="25" text-anchor="middle">rs2297440</text>
<text x="1690" y="727.7" font-size="25" text-anchor="middle">rs2297440</text>
<text x="512.3" y="910.4" font-size="25" text-anchor="middle">chr12:105,000 Kb-107,500 Kb, 5 Kb resolution</text>
<polygon points="90.3,1123.8 222.2,990.5 353.8,1123.8" fill="#e4e4e4"/>
<g clip-path="url(#c9)"><g filter="url(#hf)">
<rect x="90.3" y="990.5" width="263.5" height="133.3" fill="url(#g9)"/>
<polygon points="120.0,1123.8 172.5,1063.8 225.0,1123.8" fill="url(#b0_24)"/>
<polygon points="235.0,1123.8 262.5,1073.8 290.0,1123.8" fill="url(#b0_28)"/>
</g></g>
<polygon points="390.5,1124.2 522.2,991.9 654.1,1124.2" fill="#e4e4e4"/>
<g clip-path="url(#c10)"><g filter="url(#hf)">
<rect x="390.5" y="991.9" width="263.6" height="132.3" fill="url(#g10)"/>
<polygon points="445.0,1124.2 476.5,1079.2 508.0,1124.2" fill="url(#b0_26)"/>
<polygon points="538.0,1124.2 558.0,1084.2 578.0,1124.2" fill="url(#b0_16)"/>
</g></g>
<polygon points="692.2,1123.8 822.4,992.2 953.0,1123.8" fill="#e4e4e4"/>
<g clip-path="url(#c11)"><g filter="url(#hf)">
<rect x="692.2" y="992.2" width="260.8" height="131.6" fill="url(#g11)"/>
<polygon points="705.0,1123.8 752.5,1068.8 800.0,1123.8" fill="url(#b0_24)"/>
<polygon points="835.0,1123.8 860.0,1078.8 885.0,1123.8" fill="url(#b0_32)"/>
</g></g>
<polygon points="91.3,1290.4 222.1,1159.2 352.6,1290.4" fill="#e4e4e4"/>
<g clip-path="url(#c12)"><g filter="url(#hf)">
<rect x="91.3" y="1159.2" width="261.3" height="131.2" fill="url(#g12)"/>
<polygon points="107.0,1290.4 174.0,1220.4 241.0,1290.4" fill="url(#b0_28)"/>
<polygon points="235.0,1290.4 258.5,1230.4 282.0,1290.4" fill="url(#b0_24)"/>
</g></g>
<polygon points="391.3,1290.4 522.7,1159.0 654.1,1290.4" fill="#e4e4e4"/>
<g clip-path="url(#c13)"><g filter="url(#hf)">
<rect x="391.3" y="1159.0" width="262.8" height="131.4" fill="url(#g13)"/>
<polygon points="420.0,1290.4 460.0,1235.4 500.0,1290.4" fill="url(#b0_20)"/>
<polygon points="540.0,1290.4 557.5,1240.4 575.0,1290.4" fill="url(#b0_20)"/>
</g></g>
<polygon points="692.5,1290.4 822.2,1160.4 951.9,1290.4" fill="#e4e4e4"/>
<g clip-path="url(#c14)"><g filter="url(#hf)">
<rect x="692.5" y="1160.4" width="259.4" height="130.0" fill="url(#g14)"/>
<polygon points="715.0,1290.4 757.5,1230.4 800.0,1290.4" fill="url(#b0_20)"/>
<polygon points="840.0,1290.4 855.0,1240.4 870.0,1290.4" fill="url(#b0_20)"/>
</g></g>
<polygon points="93.1,1470.3 221.4,1342.5 350.4,1470.3" fill="#e4e4e4"/>
<g clip-path="url(#c15)"><g filter="url(#hf)">
<rect x="93.1" y="1342.5" width="257.3" height="127.8" fill="url(#g15)"/>
<polygon points="158.0,1470.3 195.0,1434.3 232.0,1470.3" fill="url(#b0_60)"/>
<polygon points="120.0,1470.3 147.5,1445.3 175.0,1470.3" fill="url(#b0_24)"/>
</g></g>
<polygon points="393.0,1469.4 523.4,1341.0 652.4,1469.4" fill="#e4e4e4"/>
<g clip-path="url(#c16)"><g filter="url(#hf)">
<rect x="393.0" y="1341.0" width="259.4" height="128.4" fill="url(#g16)"/>
<polygon points="455.0,1469.4 480.0,1445.4 505.0,1469.4" fill="url(#b0_32)"/>
</g></g>
<polygon points="693.5,1469.4 821.6,1342.0 949.6,1469.4" fill="#e4e4e4"/>
<g clip-path="url(#c17)"><g filter="url(#hf)">
<rect x="693.5" y="1342.0" width="256.1" height="127.4" fill="url(#g17)"/>
<polygon points="748.0,1469.4 795.0,1429.4 842.0,1469.4" fill="url(#b0_60)"/>
<polygon points="700.0,1469.4 730.0,1439.4 760.0,1469.4" fill="url(#b0_28)"/>
</g></g>
<text x="94.0" y="983.5" font-size="25" text-anchor="start">U251</text>
<text x="386.5" y="983.5" font-size="25" text-anchor="start">U87</text>
<text x="695.5" y="983.5" font-size="25" text-anchor="start">LN229</text>
<text x="88.5" y="1175.8" font-size="25" text-anchor="start">809</text>
<text x="380.0" y="1175.8" font-size="25" text-anchor="start">916</text>
<text x="690.3" y="1175.8" font-size="25" text-anchor="start">510</text>
<text x="88.5" y="1366.3" font-size="25" text-anchor="start">NB1</text>
<text x="380.0" y="1366.3" font-size="25" text-anchor="start">NB2</text>
<text x="690.3" y="1366.3" font-size="25" text-anchor="start">NB3</text>
<path d="M253.9 1023.4 V1470.5" stroke="#1a1a1a" stroke-width="3.2"/>
<path d="M560.5 1029.0 V1470.5" stroke="#1a1a1a" stroke-width="3.2"/>
<path d="M858.3 1027.0 V1470.5" stroke="#1a1a1a" stroke-width="3.2"/>
<text x="248.5" y="1502.5" font-size="25" text-anchor="middle">rs3851634</text>
<text x="548.5" y="1502.5" font-size="25" text-anchor="middle">rs3851634</text>
<text x="866" y="1502.5" font-size="25" text-anchor="middle">rs3851634</text>
</svg>
</body></html>
